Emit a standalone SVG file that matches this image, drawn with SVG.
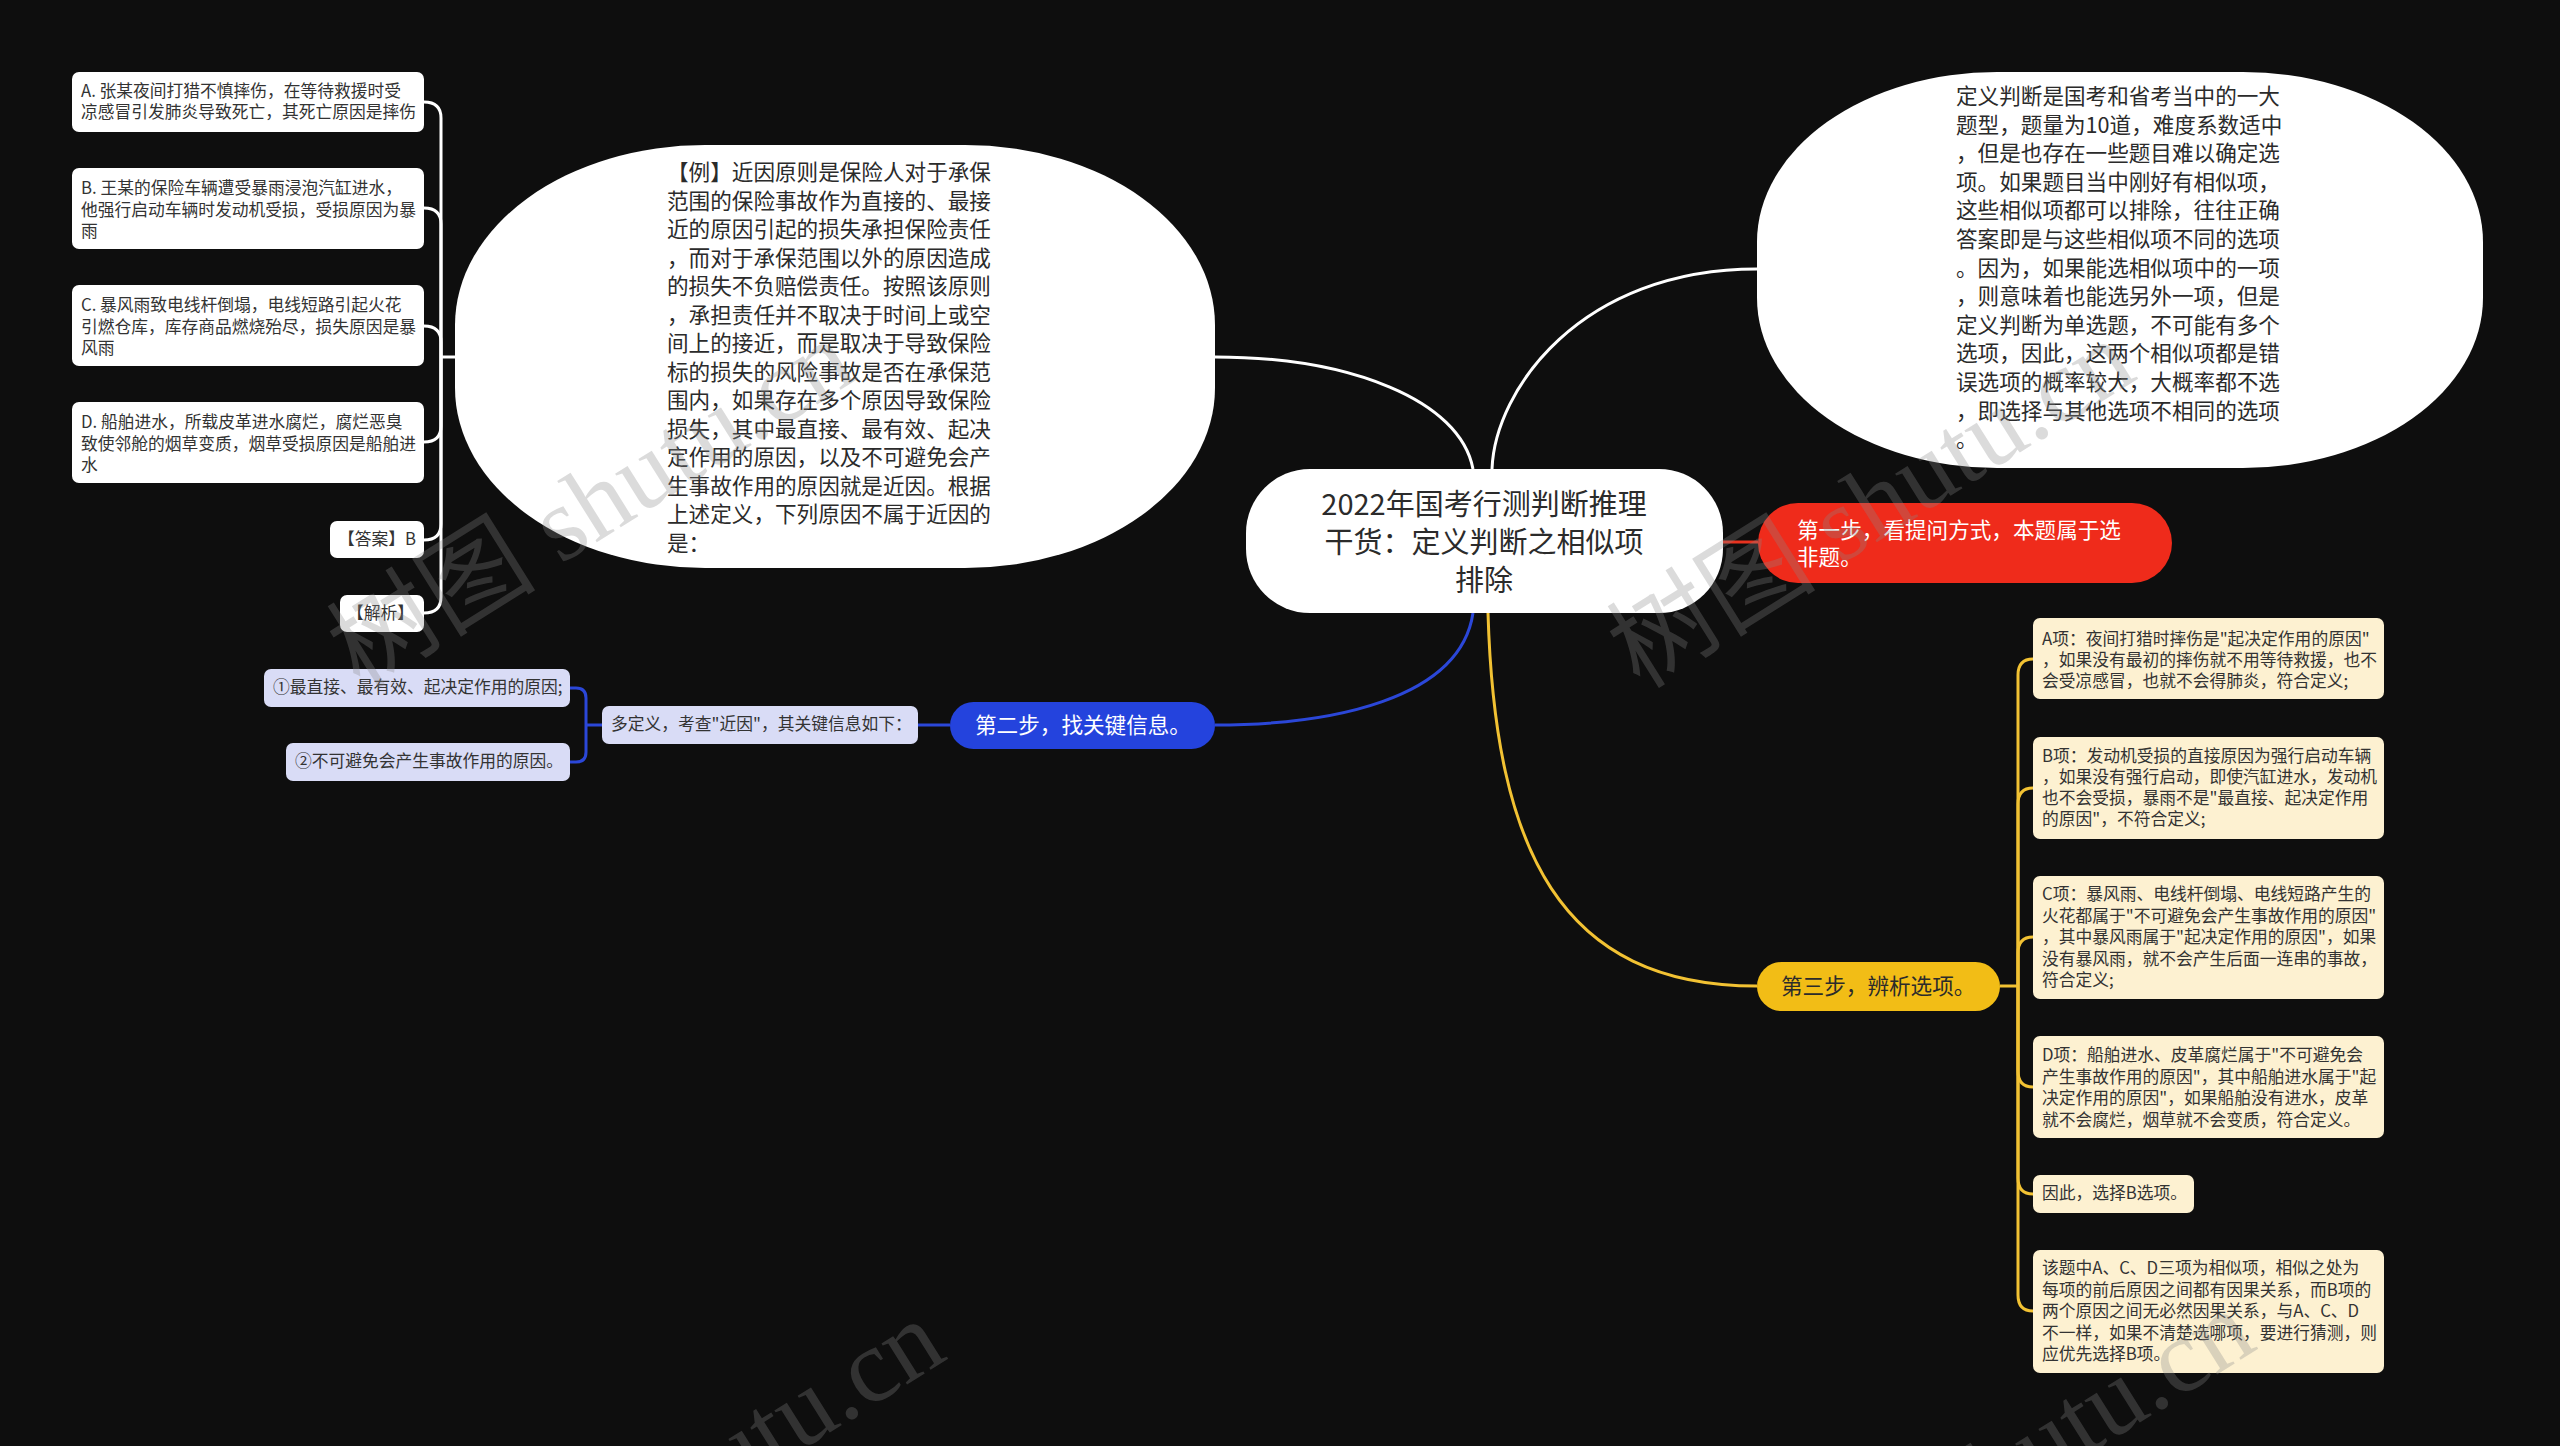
<svg xmlns="http://www.w3.org/2000/svg" width="2560" height="1446" viewBox="0 0 2560 1446">
<style>
text{font-family:"Noto Sans CJK SC","Noto Sans",sans-serif;dominant-baseline:central}
.s{font-size:16.75px;fill:#333333}
.m{font-size:21.6px;fill:#2b2b2b}
.w{fill:#ffffff}
.lav{fill:#d9dcf6}
.crm{fill:#fdf1d1}
.cw{stroke:#ffffff;stroke-width:3;fill:none}
.cr{stroke:#e8321f;stroke-width:3;fill:none}
.cb{stroke:#2b47d8;stroke-width:3;fill:none}
.cy{stroke:#f2c233;stroke-width:3;fill:none}
.wm{font-family:"Liberation Serif","Noto Sans CJK SC",serif;font-size:105px;fill:#888888;fill-opacity:0.3;dominant-baseline:auto}
</style>
<rect x="0" y="0" width="2560" height="1446" fill="#0e0e0e"/>

<g id="connectors">
<path class="cw" d="M1215,357 C1350,357 1460,400 1473,469"/>
<path class="cw" d="M1492,469 C1495,390 1580,269 1757,269"/>
<path class="cw" d="M456,357 H441"/>
<path class="cw" d="M441,357 V118 Q441,102 424,102"/>
<path class="cw" d="M441,357 V224 Q441,208 424,208"/>
<path class="cw" d="M441,357 V342 Q441,326 424,326"/>
<path class="cw" d="M441,357 V426 Q441,442 424,442"/>
<path class="cw" d="M441,357 V524 Q441,540 424,540"/>
<path class="cw" d="M441,357 V597 Q441,613 424,613"/>
<path class="cr" d="M1723,542 H1758"/>
<path class="cb" d="M1473,613 C1460,700 1330,725 1215,725"/>
<path class="cb" d="M950,725 H918"/>
<path class="cb" d="M602,725 H586"/>
<path class="cb" d="M586,725 V698 Q586,688 576,688 H570"/>
<path class="cb" d="M586,725 V752 Q586,762 576,762 H570"/>
<path class="cy" d="M1488,613 C1495,850 1560,986 1757,986"/>
<path class="cy" d="M2000,986 H2018"/>
<path class="cy" d="M2018,986 V675 Q2018,659 2033,659"/>
<path class="cy" d="M2018,986 V804 Q2018,788 2033,788"/>
<path class="cy" d="M2018,986 V953 Q2018,937 2033,937"/>
<path class="cy" d="M2018,986 V1071 Q2018,1087 2033,1087"/>
<path class="cy" d="M2018,986 V1178 Q2018,1194 2033,1194"/>
<path class="cy" d="M2018,986 V1295 Q2018,1311 2033,1311"/>
</g>

<g id="optA">
<rect class="w" x="72" y="72" width="352" height="60" rx="7"/>
<text class="s"><tspan x="81" y="90">A. 张某夜间打猎不慎摔伤，在等待救援时受</tspan><tspan x="81" y="111">凉感冒引发肺炎导致死亡，其死亡原因是摔伤</tspan></text>
</g>
<g id="optB">
<rect class="w" x="72" y="168" width="352" height="81" rx="7"/>
<text class="s"><tspan x="81" y="187">B. 王某的保险车辆遭受暴雨浸泡汽缸进水，</tspan><tspan x="81" y="208.5">他强行启动车辆时发动机受损，受损原因为暴</tspan><tspan x="81" y="230">雨</tspan></text>
</g>
<g id="optC">
<rect class="w" x="72" y="285" width="352" height="81" rx="7"/>
<text class="s"><tspan x="81" y="304">C. 暴风雨致电线杆倒塌，电线短路引起火花</tspan><tspan x="81" y="325.5">引燃仓库，库存商品燃烧殆尽，损失原因是暴</tspan><tspan x="81" y="347">风雨</tspan></text>
</g>
<g id="optD">
<rect class="w" x="72" y="402" width="352" height="81" rx="7"/>
<text class="s"><tspan x="81" y="421">D. 船舶进水，所载皮革进水腐烂，腐烂恶臭</tspan><tspan x="81" y="442.5">致使邻舱的烟草变质，烟草受损原因是船舶进</tspan><tspan x="81" y="464">水</tspan></text>
</g>
<g id="answer">
<rect class="w" x="330" y="521" width="94" height="37" rx="7"/>
<text class="s" x="338" y="538">【答案】B</text>
</g>
<g id="analysis">
<rect class="w" x="340" y="595" width="84" height="37" rx="7"/>
<text class="s" x="347" y="612">【解析】</text>
</g>

<g id="example">
<rect class="w" x="455" y="145" width="760" height="423" rx="250" ry="180"/>
<text class="m">
<tspan x="667" y="170">【例】近因原则是保险人对于承保</tspan>
<tspan x="667" y="198.5">范围的保险事故作为直接的、最接</tspan>
<tspan x="667" y="227">近的原因引起的损失承担保险责任</tspan>
<tspan x="667" y="255.5">，而对于承保范围以外的原因造成</tspan>
<tspan x="667" y="284">的损失不负赔偿责任。按照该原则</tspan>
<tspan x="667" y="312.5">，承担责任并不取决于时间上或空</tspan>
<tspan x="667" y="341">间上的接近，而是取决于导致保险</tspan>
<tspan x="667" y="369.5">标的损失的风险事故是否在承保范</tspan>
<tspan x="667" y="398">围内，如果存在多个原因导致保险</tspan>
<tspan x="667" y="426.5">损失，其中最直接、最有效、起决</tspan>
<tspan x="667" y="455">定作用的原因，以及不可避免会产</tspan>
<tspan x="667" y="483.5">生事故作用的原因就是近因。根据</tspan>
<tspan x="667" y="512">上述定义，下列原因不属于近因的</tspan>
<tspan x="667" y="540.5">是：</tspan>
</text>
</g>

<g id="center">
<rect class="w" x="1246" y="469" width="477" height="144" rx="64"/>
<text style="font-size:29px;fill:#2b2b2b" text-anchor="middle"><tspan x="1484" y="502">2022年国考行测判断推理</tspan><tspan x="1484" y="540">干货：定义判断之相似项</tspan><tspan x="1484" y="578">排除</tspan></text>
</g>

<g id="intro">
<rect class="w" x="1757" y="72" width="726" height="396" rx="240" ry="170"/>
<text class="m">
<tspan x="1956" y="94">定义判断是国考和省考当中的一大</tspan>
<tspan x="1956" y="122.6">题型，题量为10道，难度系数适中</tspan>
<tspan x="1956" y="151.2">，但是也存在一些题目难以确定选</tspan>
<tspan x="1956" y="179.8">项。如果题目当中刚好有相似项，</tspan>
<tspan x="1956" y="208.4">这些相似项都可以排除，往往正确</tspan>
<tspan x="1956" y="237">答案即是与这些相似项不同的选项</tspan>
<tspan x="1956" y="265.6">。因为，如果能选相似项中的一项</tspan>
<tspan x="1956" y="294.2">，则意味着也能选另外一项，但是</tspan>
<tspan x="1956" y="322.8">定义判断为单选题，不可能有多个</tspan>
<tspan x="1956" y="351.4">选项，因此，这两个相似项都是错</tspan>
<tspan x="1956" y="380">误选项的概率较大，大概率都不选</tspan>
<tspan x="1956" y="408.6">，即选择与其他选项不相同的选项</tspan>
<tspan x="1956" y="437.2">。</tspan>
</text>
</g>

<g id="step1">
<rect x="1758" y="503" width="414" height="80" rx="40" fill="#ef2b1b"/>
<text class="m" style="fill:#ffffff"><tspan x="1797" y="528">第一步，看提问方式，本题属于选</tspan><tspan x="1797" y="555">非题。</tspan></text>
</g>

<g id="step2">
<rect x="950" y="702" width="265" height="47" rx="23.5" fill="#2443dd"/>
<text class="m" style="fill:#ffffff" x="975" y="723">第二步，找关键信息。</text>
</g>
<g id="keyinfo">
<rect class="lav" x="602" y="706" width="316" height="38" rx="7"/>
<text class="s" x="611" y="723">多定义，考查"近因"，其关键信息如下：</text>
</g>
<g id="key1">
<rect class="lav" x="264" y="669" width="306" height="38" rx="7"/>
<text class="s" x="273" y="686">①最直接、最有效、起决定作用的原因;</text>
</g>
<g id="key2">
<rect class="lav" x="286" y="743" width="284" height="38" rx="7"/>
<text class="s" x="295" y="760">②不可避免会产生事故作用的原因。</text>
</g>

<g id="step3">
<rect x="1757" y="962" width="243" height="49" rx="24.5" fill="#f2bd16"/>
<text class="m" x="1781" y="984">第三步，辨析选项。</text>
</g>

<g id="itemA">
<rect class="crm" x="2033" y="618" width="351" height="81" rx="7"/>
<text class="s"><tspan x="2042" y="638">A项：夜间打猎时摔伤是"起决定作用的原因"</tspan><tspan x="2042" y="659">，如果没有最初的摔伤就不用等待救援，也不</tspan><tspan x="2042" y="680">会受凉感冒，也就不会得肺炎，符合定义;</tspan></text>
</g>
<g id="itemB">
<rect class="crm" x="2033" y="737" width="351" height="102" rx="7"/>
<text class="s"><tspan x="2042" y="755">B项：发动机受损的直接原因为强行启动车辆</tspan><tspan x="2042" y="776">，如果没有强行启动，即使汽缸进水，发动机</tspan><tspan x="2042" y="797">也不会受损，暴雨不是"最直接、起决定作用</tspan><tspan x="2042" y="818">的原因"，不符合定义;</tspan></text>
</g>
<g id="itemC">
<rect class="crm" x="2033" y="876" width="351" height="123" rx="7"/>
<text class="s"><tspan x="2042" y="893">C项：暴风雨、电线杆倒塌、电线短路产生的</tspan><tspan x="2042" y="914.5">火花都属于"不可避免会产生事故作用的原因"</tspan><tspan x="2042" y="936">，其中暴风雨属于"起决定作用的原因"，如果</tspan><tspan x="2042" y="957.5">没有暴风雨，就不会产生后面一连串的事故，</tspan><tspan x="2042" y="979">符合定义;</tspan></text>
</g>
<g id="itemD">
<rect class="crm" x="2033" y="1036" width="351" height="102" rx="7"/>
<text class="s"><tspan x="2042" y="1054">D项：船舶进水、皮革腐烂属于"不可避免会</tspan><tspan x="2042" y="1075.5">产生事故作用的原因"，其中船舶进水属于"起</tspan><tspan x="2042" y="1097">决定作用的原因"，如果船舶没有进水，皮革</tspan><tspan x="2042" y="1118.5">就不会腐烂，烟草就不会变质，符合定义。</tspan></text>
</g>
<g id="choose">
<rect class="crm" x="2033" y="1175" width="161" height="38" rx="7"/>
<text class="s" x="2042" y="1192">因此，选择B选项。</text>
</g>
<g id="summary">
<rect class="crm" x="2033" y="1250" width="351" height="123" rx="7"/>
<text class="s"><tspan x="2042" y="1267">该题中A、C、D三项为相似项，相似之处为</tspan><tspan x="2042" y="1288.5">每项的前后原因之间都有因果关系，而B项的</tspan><tspan x="2042" y="1310">两个原因之间无必然因果关系，与A、C、D</tspan><tspan x="2042" y="1331.5">不一样，如果不清楚选哪项，要进行猜测，则</tspan><tspan x="2042" y="1353">应优先选择B项。</tspan></text>
</g>

<g id="watermark">
<text class="wm" transform="translate(360,690) rotate(-32)">树图 shutu.cn</text>
<text class="wm" transform="translate(1640,690) rotate(-32)">树图 shutu.cn</text>
<text class="wm" transform="translate(450,1670) rotate(-32)">树图 shutu.cn</text>
<text class="wm" transform="translate(1760,1660) rotate(-32)">树图 shutu.cn</text>
</g>
</svg>
